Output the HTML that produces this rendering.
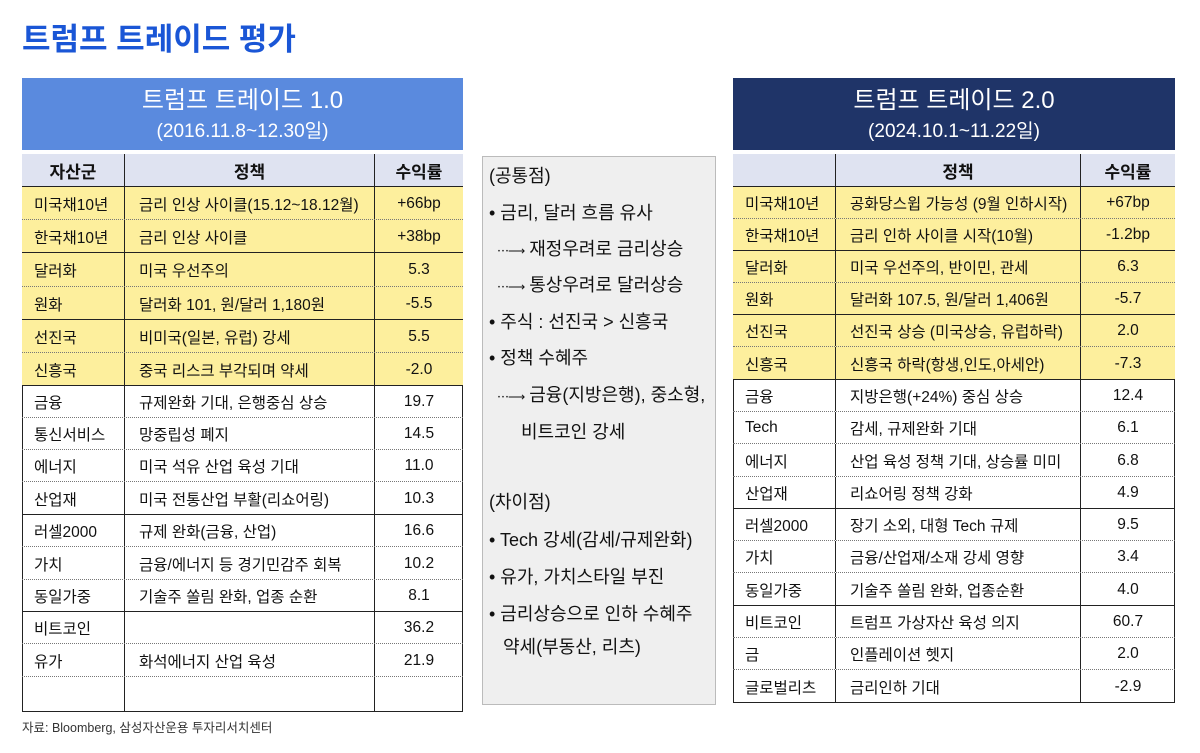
<!DOCTYPE html>
<html><head><meta charset="utf-8">
<style>
*{margin:0;padding:0;box-sizing:border-box}
body{width:1200px;height:753px;background:#fff;position:relative;overflow:hidden;font-family:"Liberation Sans","Noto Sans CJK KR",sans-serif;color:#111}
.a{position:absolute}
.title{left:22px;top:14px;font-size:31px;font-weight:bold;color:#1a56d6;letter-spacing:0px}
.hb{color:#fff;text-align:center;font-size:24px;line-height:29px;padding-top:8px}
.hb span{font-size:19px}
.r{position:absolute;display:flex;align-items:center;font-size:15.5px;border-bottom:1px dotted #777}
.r.s{border-bottom:1.5px solid #222}
.r div{height:100%;display:flex;align-items:center;padding-top:1px}
.c1{padding-left:12px;border-right:1.5px solid #222}
.c2{padding-left:14px;border-right:1.5px solid #222}
.c3{justify-content:center}
.y{background:#fdef9d}
.hd{background:#dfe3f1;font-size:17px;font-weight:500;border-bottom:1.5px solid #222}
.hd div{justify-content:center;padding-left:0;font-weight:600}
.box{left:482px;top:156px;width:234px;height:549px;background:#efefef;border:1px solid #bbb}
.m{position:absolute;font-size:18px;white-space:nowrap}
.ar{font-size:12px;letter-spacing:-1px}
</style></head><body>
<div class="a title">트럼프 트레이드 평가</div>

<div class="a hb" style="left:22px;top:78px;width:441px;height:72px;background:#5a8ade">트럼프 트레이드 1.0<br><span>(2016.11.8~12.30일)</span></div>
<div class="a" style="left:22px;top:154px;width:441px;height:558px;border:1.5px solid #222"></div>
<div class="r hd" style="left:22px;top:154px;width:441px;height:33px"><div class="c1" style="width:103px">자산군</div><div class="c2" style="width:250px">정책</div><div class="c3" style="width:88px">수익률</div></div>

<div class="r y" style="left:22px;top:187px;width:441px;height:33px"><div class="c1" style="width:103px">미국채10년</div><div class="c2" style="width:250px">금리 인상 사이클(15.12~18.12월)</div><div class="c3" style="width:88px">+66bp</div></div>
<div class="r y s" style="left:22px;top:220px;width:441px;height:33px"><div class="c1" style="width:103px">한국채10년</div><div class="c2" style="width:250px">금리 인상 사이클</div><div class="c3" style="width:88px">+38bp</div></div>
<div class="r y" style="left:22px;top:253px;width:441px;height:34px"><div class="c1" style="width:103px">달러화</div><div class="c2" style="width:250px">미국 우선주의</div><div class="c3" style="width:88px">5.3</div></div>
<div class="r y s" style="left:22px;top:287px;width:441px;height:33px"><div class="c1" style="width:103px">원화</div><div class="c2" style="width:250px">달러화 101, 원/달러 1,180원</div><div class="c3" style="width:88px">-5.5</div></div>
<div class="r y" style="left:22px;top:320px;width:441px;height:33px"><div class="c1" style="width:103px">선진국</div><div class="c2" style="width:250px">비미국(일본, 유럽) 강세</div><div class="c3" style="width:88px">5.5</div></div>
<div class="r y s" style="left:22px;top:353px;width:441px;height:33px"><div class="c1" style="width:103px">신흥국</div><div class="c2" style="width:250px">중국 리스크 부각되며 약세</div><div class="c3" style="width:88px">-2.0</div></div>
<div class="r" style="left:22px;top:386px;width:441px;height:32px"><div class="c1" style="width:103px">금융</div><div class="c2" style="width:250px">규제완화 기대, 은행중심 상승</div><div class="c3" style="width:88px">19.7</div></div>
<div class="r" style="left:22px;top:418px;width:441px;height:32px"><div class="c1" style="width:103px">통신서비스</div><div class="c2" style="width:250px">망중립성 폐지</div><div class="c3" style="width:88px">14.5</div></div>
<div class="r" style="left:22px;top:450px;width:441px;height:32px"><div class="c1" style="width:103px">에너지</div><div class="c2" style="width:250px">미국 석유 산업 육성 기대</div><div class="c3" style="width:88px">11.0</div></div>
<div class="r s" style="left:22px;top:482px;width:441px;height:33px"><div class="c1" style="width:103px">산업재</div><div class="c2" style="width:250px">미국 전통산업 부활(리쇼어링)</div><div class="c3" style="width:88px">10.3</div></div>
<div class="r" style="left:22px;top:515px;width:441px;height:32px"><div class="c1" style="width:103px">러셀2000</div><div class="c2" style="width:250px">규제 완화(금융, 산업)</div><div class="c3" style="width:88px">16.6</div></div>
<div class="r" style="left:22px;top:547px;width:441px;height:33px"><div class="c1" style="width:103px">가치</div><div class="c2" style="width:250px">금융/에너지 등 경기민감주 회복</div><div class="c3" style="width:88px">10.2</div></div>
<div class="r s" style="left:22px;top:580px;width:441px;height:32px"><div class="c1" style="width:103px">동일가중</div><div class="c2" style="width:250px">기술주 쏠림 완화, 업종 순환</div><div class="c3" style="width:88px">8.1</div></div>
<div class="r" style="left:22px;top:612px;width:441px;height:32px"><div class="c1" style="width:103px">비트코인</div><div class="c2" style="width:250px"></div><div class="c3" style="width:88px">36.2</div></div>
<div class="r" style="left:22px;top:644px;width:441px;height:33px"><div class="c1" style="width:103px">유가</div><div class="c2" style="width:250px">화석에너지 산업 육성</div><div class="c3" style="width:88px">21.9</div></div>
<div class="r" style="left:22px;top:677px;width:441px;height:35px;border-bottom:none"><div class="c1" style="width:103px"></div><div class="c2" style="width:250px"></div><div class="c3" style="width:88px"></div></div>
<div class="a" style="left:22px;top:717px;font-size:12.5px;color:#333">자료: Bloomberg, 삼성자산운용 투자리서치센터</div>

<div class="a box"></div>
<div class="m" style="left:489px;top:162px">(공통점)</div>
<div class="m" style="left:489px;top:199px">• 금리, 달러 흐름 유사</div>
<div class="m" style="left:497px;top:235px"><span class="ar">⋯⟶</span> 재정우려로 금리상승</div>
<div class="m" style="left:497px;top:271px"><span class="ar">⋯⟶</span> 통상우려로 달러상승</div>
<div class="m" style="left:489px;top:308px">• 주식 : 선진국 &gt; 신흥국</div>
<div class="m" style="left:489px;top:344px">• 정책 수혜주</div>
<div class="m" style="left:497px;top:381px"><span class="ar">⋯⟶</span> 금융(지방은행), 중소형,</div>
<div class="m" style="left:521px;top:418px">비트코인 강세</div>
<div class="m" style="left:489px;top:488px">(차이점)</div>
<div class="m" style="left:489px;top:526px">• Tech 강세(감세/규제완화)</div>
<div class="m" style="left:489px;top:563px">• 유가, 가치스타일 부진</div>
<div class="m" style="left:489px;top:600px">• 금리상승으로 인하 수혜주</div>
<div class="m" style="left:503px;top:633px">약세(부동산, 리츠)</div>

<div class="a hb" style="left:733px;top:78px;width:442px;height:72px;background:#1f3468">트럼프 트레이드 2.0<br><span>(2024.10.1~11.22일)</span></div>
<div class="a" style="left:733px;top:154px;width:442px;height:549px;border:1.5px solid #222"></div>
<div class="r hd" style="left:733px;top:154px;width:442px;height:33px"><div class="c1" style="width:103px"></div><div class="c2" style="width:245px">정책</div><div class="c3" style="width:94px">수익률</div></div>

<div class="r y" style="left:733px;top:187px;width:442px;height:32px"><div class="c1" style="width:103px">미국채10년</div><div class="c2" style="width:245px;padding-left:14px">공화당스윕 가능성 (9월 인하시작)</div><div class="c3" style="width:94px">+67bp</div></div>
<div class="r y s" style="left:733px;top:219px;width:442px;height:32px"><div class="c1" style="width:103px">한국채10년</div><div class="c2" style="width:245px">금리 인하 사이클 시작(10월)</div><div class="c3" style="width:94px">-1.2bp</div></div>
<div class="r y" style="left:733px;top:251px;width:442px;height:32px"><div class="c1" style="width:103px">달러화</div><div class="c2" style="width:245px">미국 우선주의, 반이민, 관세</div><div class="c3" style="width:94px">6.3</div></div>
<div class="r y s" style="left:733px;top:283px;width:442px;height:32px"><div class="c1" style="width:103px">원화</div><div class="c2" style="width:245px">달러화 107.5, 원/달러 1,406원</div><div class="c3" style="width:94px">-5.7</div></div>
<div class="r y" style="left:733px;top:315px;width:442px;height:32px"><div class="c1" style="width:103px">선진국</div><div class="c2" style="width:245px">선진국 상승 (미국상승, 유럽하락)</div><div class="c3" style="width:94px">2.0</div></div>
<div class="r y s" style="left:733px;top:347px;width:442px;height:33px"><div class="c1" style="width:103px">신흥국</div><div class="c2" style="width:245px">신흥국 하락(항생,인도,아세안)</div><div class="c3" style="width:94px">-7.3</div></div>
<div class="r" style="left:733px;top:380px;width:442px;height:32px"><div class="c1" style="width:103px">금융</div><div class="c2" style="width:245px">지방은행(+24%) 중심 상승</div><div class="c3" style="width:94px">12.4</div></div>
<div class="r" style="left:733px;top:412px;width:442px;height:32px"><div class="c1" style="width:103px">Tech</div><div class="c2" style="width:245px">감세, 규제완화 기대</div><div class="c3" style="width:94px">6.1</div></div>
<div class="r" style="left:733px;top:444px;width:442px;height:33px"><div class="c1" style="width:103px">에너지</div><div class="c2" style="width:245px">산업 육성 정책 기대, 상승률 미미</div><div class="c3" style="width:94px">6.8</div></div>
<div class="r s" style="left:733px;top:477px;width:442px;height:32px"><div class="c1" style="width:103px">산업재</div><div class="c2" style="width:245px">리쇼어링 정책 강화</div><div class="c3" style="width:94px">4.9</div></div>
<div class="r" style="left:733px;top:509px;width:442px;height:32px"><div class="c1" style="width:103px">러셀2000</div><div class="c2" style="width:245px">장기 소외, 대형 Tech 규제</div><div class="c3" style="width:94px">9.5</div></div>
<div class="r" style="left:733px;top:541px;width:442px;height:32px"><div class="c1" style="width:103px">가치</div><div class="c2" style="width:245px">금융/산업재/소재 강세 영향</div><div class="c3" style="width:94px">3.4</div></div>
<div class="r s" style="left:733px;top:573px;width:442px;height:33px"><div class="c1" style="width:103px">동일가중</div><div class="c2" style="width:245px">기술주 쏠림 완화, 업종순환</div><div class="c3" style="width:94px">4.0</div></div>
<div class="r" style="left:733px;top:606px;width:442px;height:32px"><div class="c1" style="width:103px">비트코인</div><div class="c2" style="width:245px">트럼프 가상자산 육성 의지</div><div class="c3" style="width:94px">60.7</div></div>
<div class="r" style="left:733px;top:638px;width:442px;height:32px"><div class="c1" style="width:103px">금</div><div class="c2" style="width:245px">인플레이션 헷지</div><div class="c3" style="width:94px">2.0</div></div>
<div class="r" style="left:733px;top:670px;width:442px;height:33px;border-bottom:none"><div class="c1" style="width:103px">글로벌리츠</div><div class="c2" style="width:245px">금리인하 기대</div><div class="c3" style="width:94px">-2.9</div></div>
</body></html>
